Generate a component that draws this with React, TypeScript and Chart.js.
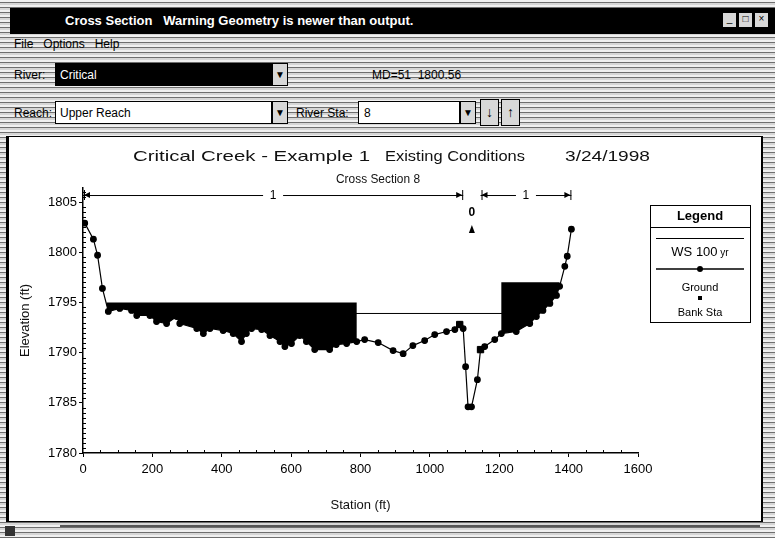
import React, { useEffect, useRef } from "react";
import { Chart, registerables } from "chart.js";
Chart.register(...registerables);

const FONT = '"Liberation Sans", Arial, Helvetica, sans-serif';

// ---- data ----
const stations = [5, 30, 42, 56, 73, 106, 140, 155, 193, 212, 241, 270, 279, 328, 347, 366, 404, 433, 457, 471, 486, 515, 539, 568, 582, 601, 625, 644, 668, 711, 730, 760, 789, 812, 851, 894, 923, 951, 985, 1014, 1048, 1072, 1086, 1096, 1103, 1110, 1120, 1137, 1146, 1158, 1187, 1206, 1249, 1288, 1307, 1326, 1346, 1365, 1374, 1389, 1396, 1408];
const elevations = [1802.9, 1801.3, 1799.7, 1796.4, 1794.1, 1794.4, 1794.2, 1793.7, 1793.7, 1793.1, 1792.9, 1793.6, 1792.9, 1792.4, 1791.9, 1792.4, 1792.2, 1791.9, 1791.1, 1791.9, 1792.4, 1792.3, 1791.7, 1791.1, 1790.6, 1790.9, 1791.7, 1791.1, 1790.3, 1790.3, 1790.8, 1790.9, 1791.1, 1791.3, 1791.0, 1790.2, 1789.9, 1790.7, 1791.2, 1791.8, 1792.1, 1792.3, 1792.8, 1792.4, 1788.6, 1784.6, 1784.6, 1787.3, 1790.3, 1790.6, 1791.3, 1791.9, 1792.1, 1792.9, 1793.6, 1794.2, 1794.9, 1795.7, 1796.6, 1798.6, 1799.6, 1802.3];
const bankStations = [1086, 1146];
const bankElevations = [1792.8, 1790.3];
const wsStations = [150, 1300];
const wsElevations = [1793.9, 1793.9];
const ineffStarts = [68, 1206];
const ineffEnds = [789, 1374];
const ineffElevations = [1795.0, 1797.0];
const nBounds = [0, 1096, 1146, 1408];
const nLabels = ["1", "0", "1"];
const nElevation = 1805.7;
const xTicks = [0, 200, 400, 600, 800, 1000, 1200, 1400, 1600];
const yTicks = [1780, 1785, 1790, 1795, 1800, 1805];
const yMax = 1806.4;

const titleParts = ["Critical Creek - Example 1", "Existing Conditions", "3/24/1998"];
const subTitle = "Cross Section 8";
const wsName = "WS 100 yr";

function groundAt(s: number): number {
  if (s <= stations[0]) return elevations[0];
  for (let i = 1; i < stations.length; i++) {
    if (s <= stations[i]) {
      const t = (s - stations[i - 1]) / (stations[i] - stations[i - 1]);
      return elevations[i - 1] + t * (elevations[i] - elevations[i - 1]);
    }
  }
  return elevations[elevations.length - 1];
}

function fitText(ctx: CanvasRenderingContext2D, text: string, x: number, y: number, w: number) {
  const m = ctx.measureText(text).width;
  ctx.save();
  ctx.translate(x, y);
  ctx.scale(w / m, 1);
  ctx.fillText(text, 0, 0);
  ctx.restore();
}

const overlay = {
  id: "xsOverlay",
  afterDatasetsDraw(chart: any) {
    const { ctx, scales } = chart;
    const X = (v: number) => scales.x.getPixelForValue(v);
    const Y = (v: number) => scales.y.getPixelForValue(v);
    ctx.save();
    ctx.fillStyle = "#000";
    for (let k = 0; k < ineffStarts.length; k++) {
      const a = ineffStarts[k], b = ineffEnds[k], e = ineffElevations[k];
      ctx.beginPath();
      ctx.moveTo(X(a), Y(e));
      ctx.lineTo(X(b), Y(e));
      ctx.lineTo(X(b), Y(groundAt(b)));
      for (let i = stations.length - 1; i >= 0; i--) {
        if (stations[i] < b && stations[i] > a) ctx.lineTo(X(stations[i]), Y(elevations[i]));
      }
      ctx.lineTo(X(a), Y(groundAt(a)));
      ctx.closePath();
      ctx.fill();
    }
    const yl = Y(nElevation);
    ctx.strokeStyle = "#000";
    ctx.lineWidth = 1;
    ctx.font = "12px " + FONT;
    ctx.textAlign = "center";
    ctx.textBaseline = "middle";
    const arrow = (x: number, dir: number) => {
      ctx.beginPath();
      ctx.moveTo(x, yl);
      ctx.lineTo(x - dir * 6, yl - 3);
      ctx.lineTo(x - dir * 6, yl + 3);
      ctx.closePath();
      ctx.fill();
      ctx.beginPath();
      ctx.moveTo(x + 0.5, yl - 5);
      ctx.lineTo(x + 0.5, yl + 5);
      ctx.stroke();
    };
    for (let k = 0; k < nLabels.length; k++) {
      const xa = X(nBounds[k]), xb = X(nBounds[k + 1]);
      const xm = (xa + xb) / 2;
      if (xb - xa > 60) {
        ctx.beginPath();
        ctx.moveTo(xa, yl + 0.5);
        ctx.lineTo(xm - 10, yl + 0.5);
        ctx.moveTo(xm + 10, yl + 0.5);
        ctx.lineTo(xb, yl + 0.5);
        ctx.stroke();
        arrow(xa + 1, -1);
        arrow(xb - 1, 1);
        ctx.fillText(nLabels[k], xm, yl + 1);
      } else {
        ctx.font = "bold 12px " + FONT;
        ctx.fillText(nLabels[k], xm, yl + 18);
        ctx.beginPath();
        ctx.moveTo(xm, yl + 30);
        ctx.lineTo(xm - 3, yl + 38);
        ctx.lineTo(xm + 3, yl + 38);
        ctx.closePath();
        ctx.fill();
        ctx.font = "12px " + FONT;
      }
    }
    ctx.restore();
  },
  afterDraw(chart: any) {
    const { ctx, scales, chartArea: ca } = chart;
    const X = (v: number) => scales.x.getPixelForValue(v);
    const Y = (v: number) => scales.y.getPixelForValue(v);
    ctx.save();
    ctx.strokeStyle = "#000";
    ctx.lineWidth = 1;
    ctx.beginPath();
    for (let v = 1780.5; v < yMax; v += 0.5) {
      if (Math.abs(v / 5 - Math.round(v / 5)) < 1e-6) continue;
      const py = Math.round(Y(v)) + 0.5;
      ctx.moveTo(ca.left, py);
      ctx.lineTo(ca.left + 3, py);
    }
    for (let v = 50; v < 1600; v += 50) {
      if (v % 200 === 0) continue;
      const px = Math.round(X(v)) + 0.5;
      ctx.moveTo(px, ca.bottom);
      ctx.lineTo(px, ca.bottom - 3);
    }
    ctx.stroke();

    ctx.fillStyle = "#111";
    ctx.textBaseline = "middle";
    ctx.textAlign = "left";
    ctx.font = "15px " + FONT;
    fitText(ctx, titleParts[0], 123, 19, 237);
    fitText(ctx, titleParts[1], 375, 19, 140);
    fitText(ctx, titleParts[2], 555, 19, 85);
    ctx.font = "12px " + FONT;
    fitText(ctx, subTitle, 326, 42, 84);

    ctx.font = "13px " + FONT;
    ctx.textAlign = "center";
    ctx.fillText("Station (ft)", (ca.left + ca.right) / 2, 367);
    ctx.save();
    ctx.translate(15, (ca.top + ca.bottom) / 2);
    ctx.rotate(-Math.PI / 2);
    ctx.fillText("Elevation (ft)", 0, 0);
    ctx.restore();

    const L = 640, R = 740, T = 67, B = 184, cx = (L + R) / 2;
    ctx.strokeStyle = "#000";
    ctx.lineWidth = 1;
    ctx.strokeRect(L + 0.5, T + 0.5, R - L, B - T);
    ctx.beginPath();
    ctx.moveTo(L, 89.5);
    ctx.lineTo(R, 89.5);
    ctx.stroke();
    ctx.fillStyle = "#000";
    ctx.font = "bold 13px " + FONT;
    ctx.fillText("Legend", cx, 78);
    ctx.beginPath();
    ctx.moveTo(L + 6, 100.5);
    ctx.lineTo(R - 6, 100.5);
    ctx.stroke();
    const parts = wsName.split(" ");
    const main = parts.slice(0, 2).join(" ");
    const small = " " + parts.slice(2).join(" ");
    ctx.font = "13px " + FONT;
    const w1 = ctx.measureText(main).width;
    ctx.font = "10px " + FONT;
    const w2 = ctx.measureText(small).width;
    ctx.textAlign = "left";
    ctx.font = "13px " + FONT;
    ctx.fillText(main, cx - (w1 + w2) / 2, 114);
    ctx.font = "10px " + FONT;
    ctx.fillText(small, cx - (w1 + w2) / 2 + w1, 115);
    ctx.textAlign = "center";
    ctx.lineWidth = 1.5;
    ctx.beginPath();
    ctx.moveTo(L + 6, 131);
    ctx.lineTo(R - 6, 131);
    ctx.stroke();
    ctx.beginPath();
    ctx.arc(cx, 131, 3, 0, Math.PI * 2);
    ctx.fill();
    ctx.font = "11px " + FONT;
    ctx.fillText("Ground", cx, 150);
    ctx.fillRect(cx - 2, 158, 4, 4);
    ctx.fillText("Bank Sta", cx, 175);
    ctx.restore();
  },
};

const patternBg: React.CSSProperties = {
  backgroundColor: "#c4c4c4",
  backgroundImage:
    "repeating-linear-gradient(180deg, rgba(255,255,255,0.75) 0px, rgba(255,255,255,0.75) 2px, rgba(40,40,40,0.55) 2px, rgba(40,40,40,0.55) 3px, rgba(255,255,255,0.3) 3px, rgba(255,255,255,0.3) 5px)",
};

export default function App() {
  const ref = useRef<HTMLCanvasElement>(null);
  useEffect(() => {
    if (!ref.current) return;
    const chart = new Chart(ref.current, {
      type: "line",
      data: {
        datasets: [
          {
            label: wsName,
            data: wsStations.map((s, i) => ({ x: s, y: wsElevations[i] })),
            borderColor: "#000",
            borderWidth: 1,
            pointRadius: 0,
          },
          {
            label: "Ground",
            data: stations.map((s, i) => ({ x: s, y: elevations[i] })),
            borderColor: "#000",
            borderWidth: 1.2,
            pointRadius: 2.8,
            pointBackgroundColor: "#000",
            pointBorderColor: "#000",
          },
          {
            label: "Bank Sta",
            data: bankStations.map((s, i) => ({ x: s, y: bankElevations[i] })),
            showLine: false,
            pointRadius: 4.5,
            pointStyle: "rect",
            pointBackgroundColor: "#000",
            pointBorderColor: "#000",
          },
        ],
      },
      options: {
        animation: false,
        responsive: false,
        maintainAspectRatio: false,
        layout: { padding: { left: 0, right: 122, top: 50, bottom: 0 } },
        plugins: { legend: { display: false }, tooltip: { enabled: false } },
        scales: {
          x: {
            type: "linear",
            min: 0,
            max: 1600,
            afterBuildTicks: (s: any) => {
              s.ticks = xTicks.map((v) => ({ value: v }));
            },
            afterFit: (s: any) => {
              s.height = 67;
            },
            grid: { drawOnChartArea: false, tickLength: 4, color: "#000" },
            border: { color: "#000", width: 1.5 },
            ticks: {
              color: "#000",
              padding: 5,
              font: { family: FONT, size: 13 },
              maxRotation: 0,
              callback: (v: any) => String(v),
            },
          },
          y: {
            type: "linear",
            min: 1780,
            max: yMax,
            afterBuildTicks: (s: any) => {
              s.ticks = yTicks.map((v) => ({ value: v }));
            },
            afterFit: (s: any) => {
              s.width = 73;
            },
            grid: { drawOnChartArea: false, tickLength: 4, color: "#000" },
            border: { color: "#000", width: 1.5 },
            ticks: { color: "#000", padding: 2, font: { family: FONT, size: 13 }, callback: (v: any) => String(v) },
          },
        },
      },
      plugins: [overlay],
    } as any);
    return () => chart.destroy();
  }, []);

  const txt: React.CSSProperties = { position: "absolute", fontSize: 12, color: "#000", whiteSpace: "pre" };
  const btn: React.CSSProperties = {
    position: "absolute",
    background: "#d8d8d8",
    border: "1px solid #000",
    boxSizing: "border-box",
    fontSize: 10,
    textAlign: "center",
    color: "#000",
  };
  return (
    <div
      style={{
        position: "fixed",
        left: 0,
        top: 0,
        width: 775,
        height: 538,
        overflow: "hidden",
        ...patternBg,
        fontFamily: FONT,
      }}
    >
      <div style={{ position: "absolute", left: 10, top: 8, width: 765, height: 26, background: "#000" }} />
      <div style={{ ...txt, left: 65, top: 13, color: "#fff", fontWeight: "bold", fontSize: 13 }}>
        {"Cross Section   Warning Geometry is newer than output."}
      </div>
      <div style={{ ...btn, left: 722, top: 12, width: 15, height: 16 }}>_</div>
      <div style={{ ...btn, left: 738, top: 12, width: 15, height: 16 }}>□</div>
      <div style={{ ...btn, left: 754, top: 12, width: 15, height: 16 }}>×</div>
      <div style={{ ...txt, left: 14, top: 37 }}>{"File   Options   Help"}</div>
      <div style={{ ...txt, left: 14, top: 68 }}>River:</div>
      <div style={{ position: "absolute", left: 55, top: 63, width: 217, height: 23, background: "#000" }} />
      <div style={{ ...txt, left: 60, top: 68, color: "#fff" }}>Critical</div>
      <div style={{ ...btn, left: 272, top: 63, width: 16, height: 23, lineHeight: "21px" }}>▼</div>
      <div style={{ ...txt, left: 372, top: 68 }}>{"MD=51  1800.56"}</div>
      <div style={{ ...txt, left: 14, top: 106 }}>Reach:</div>
      <div style={{ position: "absolute", left: 55, top: 101, width: 217, height: 23, background: "#fff", border: "1px solid #000", boxSizing: "border-box" }} />
      <div style={{ ...txt, left: 60, top: 106 }}>Upper Reach</div>
      <div style={{ ...btn, left: 272, top: 101, width: 16, height: 23, lineHeight: "21px" }}>▼</div>
      <div style={{ ...txt, left: 296, top: 106 }}>River Sta:</div>
      <div style={{ position: "absolute", left: 358, top: 101, width: 102, height: 23, background: "#fff", border: "1px solid #000", boxSizing: "border-box" }} />
      <div style={{ ...txt, left: 364, top: 106 }}>8</div>
      <div style={{ ...btn, left: 460, top: 101, width: 16, height: 23, lineHeight: "21px" }}>▼</div>
      <div style={{ ...btn, left: 480, top: 99, width: 19, height: 27, fontSize: 14, lineHeight: "25px", fontWeight: "bold" }}>↓</div>
      <div style={{ ...btn, left: 501, top: 99, width: 19, height: 27, fontSize: 14, lineHeight: "25px", fontWeight: "bold" }}>↑</div>
      <div
        style={{
          position: "absolute",
          left: 6,
          top: 136,
          width: 757,
          height: 386,
          background: "#fff",
          borderLeft: "3px solid #000",
          borderTop: "1px solid #000",
          borderRight: "2px solid #000",
          borderBottom: "1px solid #000",
          boxSizing: "border-box",
        }}
      />
      <canvas
        ref={ref}
        width={750}
        height={382}
        style={{ position: "absolute", left: 10, top: 138, width: 750, height: 382 }}
      />
      <div style={{ position: "absolute", left: 60, top: 525, width: 700, height: 2, background: "#555" }} />
      <div style={{ position: "absolute", left: 5, top: 526, width: 10, height: 10, background: "#333" }} />
    </div>
  );
}
